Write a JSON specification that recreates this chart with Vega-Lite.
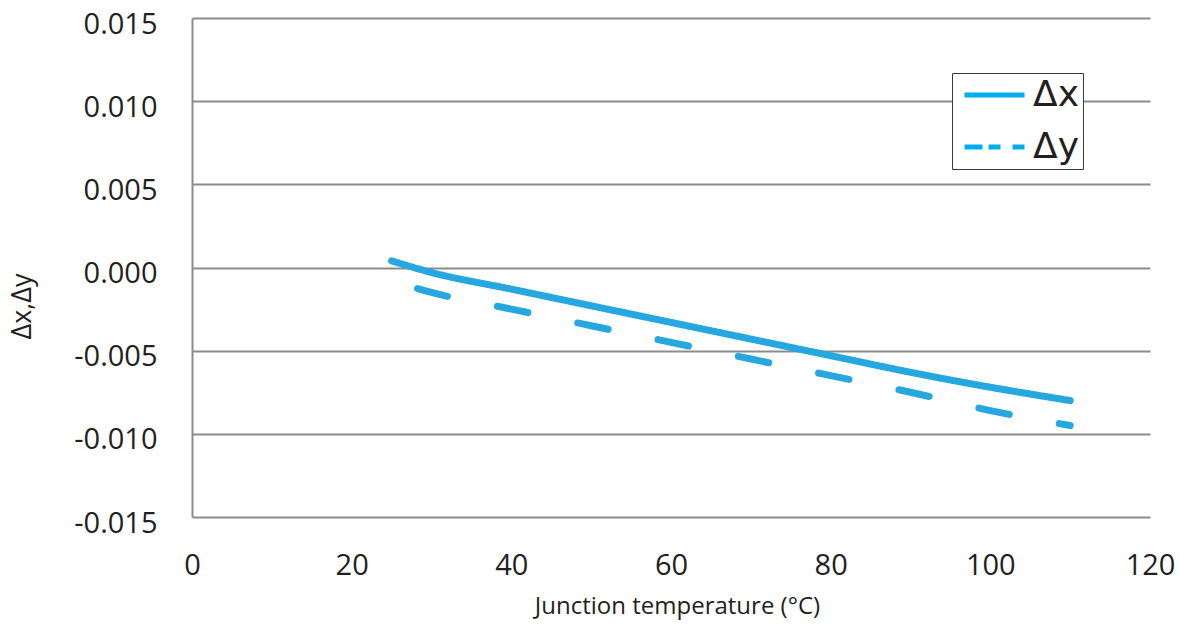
{
  "$schema": "https://vega.github.io/schema/vega-lite/v6.json",
  "width": 958,
  "height": 499,
  "autosize": {"type": "none"},
  "padding": {"left": 192, "top": 18, "right": 30, "bottom": 111},
  "background": "white",
  "config": {
    "font": "Open Sans",
    "view": {"stroke": null},
    "axis": {"labelColor": "#231f20", "titleColor": "#231f20", "titleFontWeight": "normal"}
  },
  "data": {
    "values": [
      {"t": 25, "v": 0.0004, "series": "Δx"},
      {"t": 30, "v": -0.0003, "series": "Δx"},
      {"t": 40, "v": -0.0013, "series": "Δx"},
      {"t": 50, "v": -0.0023, "series": "Δx"},
      {"t": 60, "v": -0.0033, "series": "Δx"},
      {"t": 70, "v": -0.0043, "series": "Δx"},
      {"t": 80, "v": -0.0053, "series": "Δx"},
      {"t": 90, "v": -0.0063, "series": "Δx"},
      {"t": 100, "v": -0.0072, "series": "Δx"},
      {"t": 110, "v": -0.0080, "series": "Δx"},
      {"t": 25, "v": -0.0008, "series": "Δy"},
      {"t": 30, "v": -0.0015, "series": "Δy"},
      {"t": 40, "v": -0.0025, "series": "Δy"},
      {"t": 50, "v": -0.0035, "series": "Δy"},
      {"t": 60, "v": -0.0045, "series": "Δy"},
      {"t": 70, "v": -0.0055, "series": "Δy"},
      {"t": 80, "v": -0.0065, "series": "Δy"},
      {"t": 90, "v": -0.0075, "series": "Δy"},
      {"t": 100, "v": -0.0086, "series": "Δy"},
      {"t": 110, "v": -0.0095, "series": "Δy"}
    ]
  },
  "encoding": {
    "x": {
      "field": "t",
      "type": "quantitative",
      "scale": {"domain": [0, 120], "nice": false},
      "axis": {
        "values": [0, 20, 40, 60, 80, 100, 120],
        "title": "Junction temperature (°C)",
        "titleFontSize": 24,
        "titlePadding": 14,
        "titleX": 485,
        "labelFontSize": 29,
        "labelPadding": 34,
        "grid": false,
        "domain": false,
        "ticks": false,
        "tickSize": 0,
        "labelFlush": false
      }
    },
    "y": {
      "field": "v",
      "type": "quantitative",
      "scale": {"domain": [-0.015, 0.015], "nice": false, "zero": false},
      "axis": {
        "values": [-0.015, -0.01, -0.005, 0, 0.005, 0.01, 0.015],
        "labelExpr": "(datum.value < -1e-9 ? '-' : '') + format(abs(datum.value), '.3f')",
        "title": "Δx,Δy",
        "titleFontSize": 27,
        "titleAngle": -90,
        "titleX": -170,
        "titleY": 288,
        "titleAlign": "center",
        "titleBaseline": "middle",
        "labelFontSize": 29,
        "labelPadding": 35,
        "labelBaseline": "middle",
        "labelOffset": 6,
        "labelFlush": false,
        "grid": true,
        "gridColor": "#8c8c8c",
        "gridWidth": 2,
        "domain": true,
        "domainColor": "#8c8c8c",
        "domainWidth": 2,
        "ticks": false,
        "tickSize": 0
      }
    }
  },
  "layer": [
    {
      "mark": {
        "type": "line",
        "color": "#27a7df",
        "strokeWidth": 7,
        "strokeCap": "round",
        "strokeJoin": "round",
        "interpolate": "monotone",
        "strokeDashOffset": 55
      },
      "encoding": {
        "strokeDash": {
          "field": "series",
          "type": "nominal",
          "scale": {"range": [[1, 0], [31, 51]]},
          "legend": null
        }
      }
    },
    {
      "mark": {"type": "point", "filled": false, "size": 0, "strokeWidth": 0, "color": "#00aeef"},
      "encoding": {
        "shape": {
          "field": "series",
          "type": "nominal",
          "scale": {
            "domain": ["Δx", "Δy"],
            "range": ["M-0.95,0H5.05", "M-0.95,0H0.85M1.45,0H2.65M3.85,0H5.05"]
          },
          "legend": {
            "title": null,
            "orient": "none",
            "legendX": 760,
            "legendY": 55,
            "fillColor": "white",
            "strokeColor": "#3a3a3a",
            "padding": 4,
            "rowPadding": 16,
            "symbolSize": 400,
            "symbolStrokeWidth": 5,
            "symbolStrokeColor": "#00aeef",
            "symbolFillColor": "transparent",
            "symbolOpacity": 1,
            "labelFont": "DejaVu Sans",
            "labelFontSize": 36,
            "labelColor": "#231f20",
            "labelOffset": 41,
            "labelExpr": "datum.label + '\u00a0\u00a0'"
          }
        }
      }
    }
  ]
}
